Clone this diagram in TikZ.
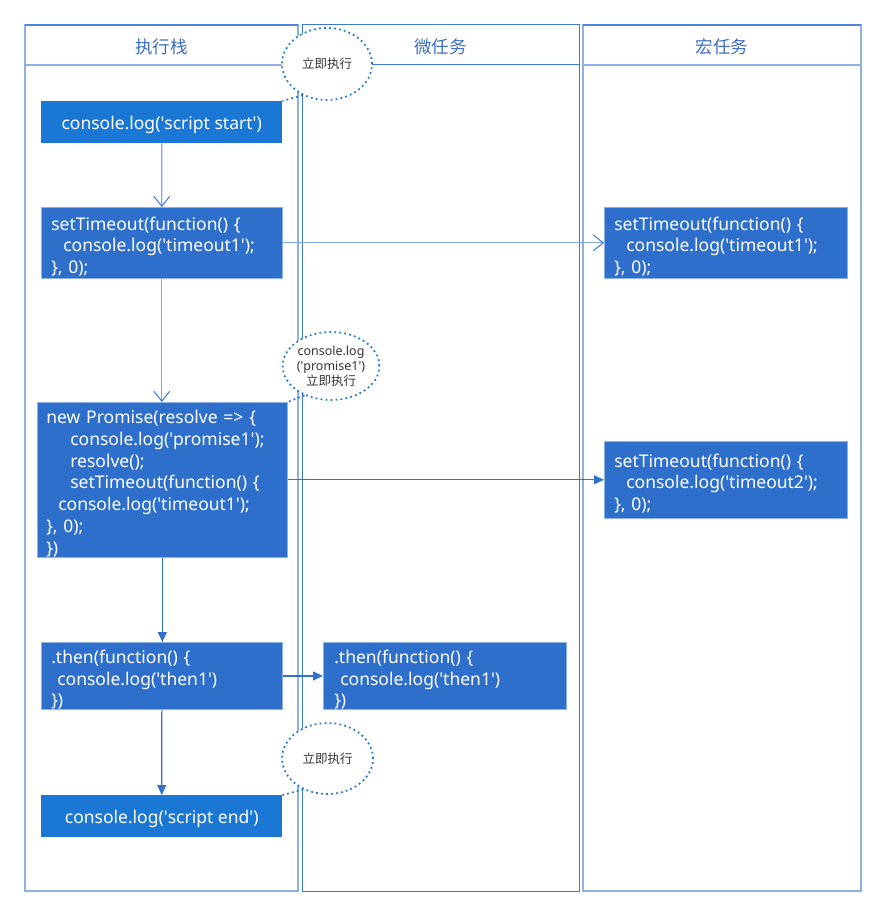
\documentclass[tikz,border=0pt]{standalone}
\usepackage{fontspec}
\setmainfont{Noto Sans}
\newfontfamily\cjk{Noto Sans CJK SC}
\usetikzlibrary{arrows.meta,shapes.geometric}
\definecolor{lanelight}{HTML}{8DB1E4}
\definecolor{lanedark}{HTML}{3C7AD2}
\definecolor{boxblue}{HTML}{2E6FCB}
\definecolor{boxbright}{HTML}{1A77D4}
\definecolor{headblue}{HTML}{3D6EC2}
\definecolor{dotblue}{HTML}{1976D2}
\definecolor{txtgray}{HTML}{333333}
\definecolor{arrowlight}{HTML}{7EA6E0}
\definecolor{arrowdark}{HTML}{2F72CC}
\newcommand\q{\textquotesingle}
\begin{document}
\begin{tikzpicture}[x=1pt,y=-1pt,
  lanehead/.style={font=\cjk\fontsize{17.5}{20}\selectfont, text=headblue, inner sep=0},
  codebox/.style={rectangle, anchor=north west, fill=boxblue, draw=lanelight, line width=0.6pt,
    text=white, font=\fontsize{17.5}{21.8}\selectfont, align=left, inner ysep=0pt, inner xsep=10pt,
    execute at begin node={\rule{0pt}{21pt}}},
  brightbox/.style={rectangle, anchor=north west, fill=boxbright, text=white,
    font=\fontsize{17.5}{21.8}\selectfont, align=center, inner sep=0pt,
    minimum width=241pt, minimum height=42pt, text height=16pt, text depth=2pt},
  callout/.style={ellipse, draw=dotblue, line width=1.7pt, dash pattern=on 1.8pt off 3.2pt,
    fill=white, text=txtgray, font=\fontsize{12.5}{15}\selectfont, align=center, inner sep=0pt},
  tail/.style={draw=dotblue, line width=1.7pt, dash pattern=on 1.8pt off 3.2pt},
  openarrow/.style={draw=arrowlight, line width=1.2pt, -{Straight Barb[length=10pt,width=16pt,line width=1pt,color=lanedark]}},
  fillarrow/.style={draw=arrowdark, line width=1.1pt, -{Triangle[length=10pt,width=9pt]}}
]
\useasboundingbox (0,0) rectangle (886,917);
\fill[white] (0,0) rectangle (886,917);

% lanes
\draw[lanelight, line width=1.6pt] (25,25) rectangle (298,891);
\draw[lanelight, line width=1.6pt] (25,65) -- (298,65);
\draw[lanedark!80!lanelight, line width=1.2pt] (25,25) -- (298,25);
\draw[lanedark, line width=1pt] (302,25) rectangle (579,891);
\draw[lanedark, line width=1pt] (302,65) -- (579,65);
\draw[lanelight, line width=1.6pt] (583,25) rectangle (861,891);
\draw[lanelight, line width=1.6pt] (583,65) -- (861,65);
\draw[lanedark!80!lanelight, line width=1.2pt] (583,25) -- (861,25);

\node[lanehead] (h1) at (161.5,47) {执行栈};
\node[lanehead] (h2) at (440.5,47) {微任务};
\node[lanehead] (h3) at (722,47) {宏任务};

% boxes
\node[brightbox] (b1) at (41,101) {console.log(\q script start\q)};
\node[codebox, text width=221pt, minimum height=71pt] (b2) at (41,207)
  {setTimeout(function() \{\\\hspace*{12pt}console.log(\q timeout1\q);\\\}, 0);};
\node[codebox, inner xsep=9pt, text width=232pt, minimum height=155pt] (b3) at (37,402)
  {new Promise(resolve => \{\\\hspace*{24pt}console.log(\q promise1\q);\\\hspace*{24pt}resolve();\\\hspace*{24pt}setTimeout(function() \{\\\hspace*{12pt}console.log(\q timeout1\q);\\\}, 0);\\\})};
\node[codebox, text width=221pt, minimum height=63pt] (b4) at (41,642)
  {.then(function() \{\\\hspace*{6pt}console.log(\q then1\q)\\\})};
\node[brightbox] (b5) at (41,795) {console.log(\q script end\q)};

\node[codebox, inner xsep=11pt, text width=221pt, minimum height=63pt] (t1) at (323,642)
  {.then(function() \{\\\hspace*{6pt}console.log(\q then1\q)\\\})};

\node[codebox, text width=223pt, minimum height=71pt] (m1) at (604,207)
  {setTimeout(function() \{\\\hspace*{12pt}console.log(\q timeout1\q);\\\}, 0);};
\node[codebox, text width=223pt, minimum height=77pt] (m2) at (604,441)
  {setTimeout(function() \{\\\hspace*{12pt}console.log(\q timeout2\q);\\\}, 0);};

% connectors
\draw[openarrow] (b1.south) -- (b2.north);
\draw[openarrow] (b2.south) -- (b2.south |- b3.north);
\draw[openarrow] (b2.east) -- (m1.west);
\draw[fillarrow] (b3.south) -- (b3.south |- b4.north);
\draw[fillarrow] (b3.east) -- (m2.west);
\draw[fillarrow] (b4.east) -- (t1.west);
\draw[fillarrow] (b4.south) -- (b5.north);

% callouts
\node[callout, minimum width=90pt, minimum height=72pt] (c1) at (327,64) {\cjk 立即执行};
\node[callout, minimum width=92pt, minimum height=68pt] (c2) at (331,366)
  {console.log\\(\q promise1\q)\\{\cjk 立即执行}};
\node[callout, minimum width=91pt, minimum height=71pt] (c3) at (327.5,758.5) {\cjk 立即执行};
\path[tail] (c1.232) -- (b1.north east);
\path[tail] (c2.228) -- (b3.north east);
\path[tail] (c3.232) -- (b5.north east);
\end{tikzpicture}
\end{document}
